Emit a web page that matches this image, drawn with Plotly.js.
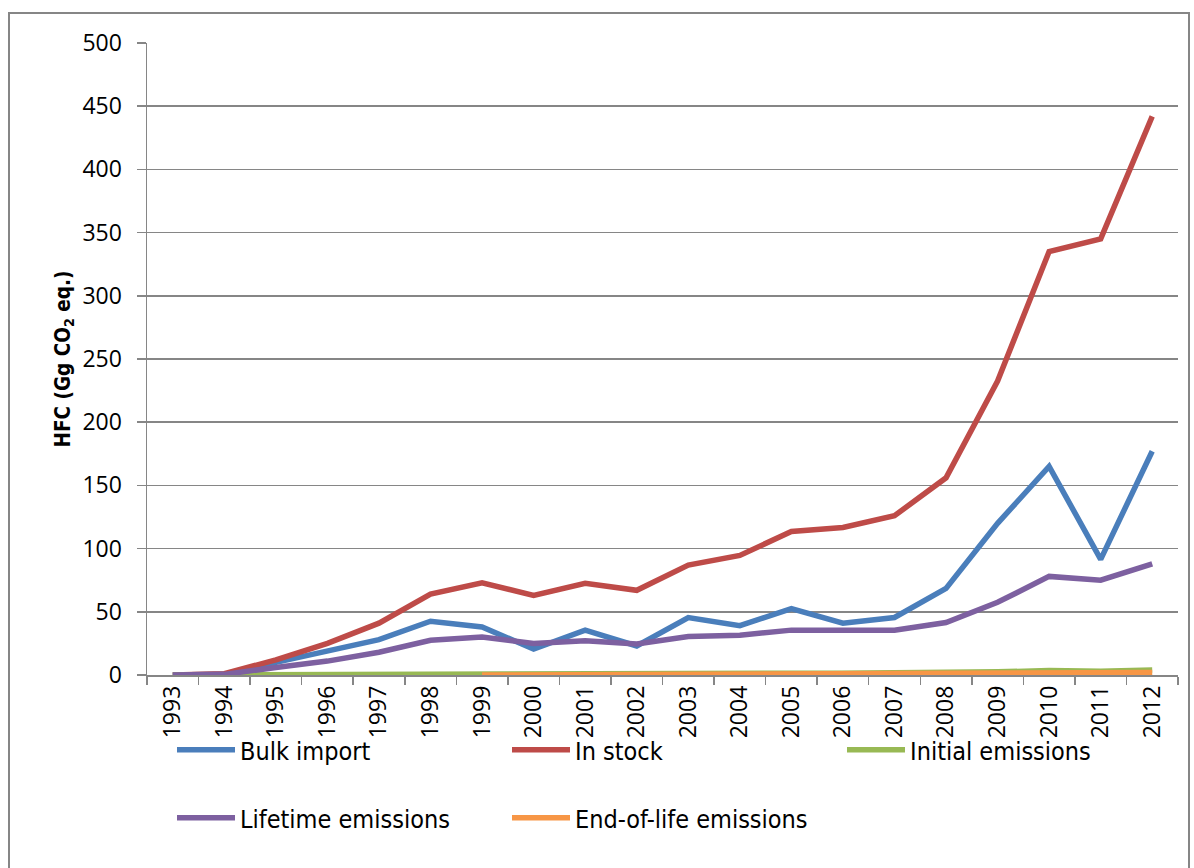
<!DOCTYPE html>
<html>
<head>
<meta charset="utf-8">
<script src="https://cdn.plot.ly/plotly-3.0.1.min.js"></script>
<style>
  html, body { margin: 0; padding: 0; background: #fff; }
  #frame { position: absolute; left: 8px; top: 12px; width: 1182px; height: 900px; border: 2px solid #868686; box-sizing: border-box; }
  #chart { position: absolute; left: 0; top: 0; width: 1194px; height: 868px; }
</style>
</head>
<body>
<div id="frame"></div>
<div id="chart"></div>
<script>
const years = ['1993','1994','1995','1996','1997','1998','1999','2000','2001','2002','2003','2004','2005','2006','2007','2008','2009','2010','2011','2012'];
const bulkImport = [0, 0.5, 10, 19, 28, 42.5, 38, 20.5, 35.5, 23, 45.5, 39, 52.5, 41, 45.5, 68.5, 120, 165, 91.5, 177];
const inStock = [0, 1, 12, 25, 41, 64, 73, 63, 72.5, 67, 87, 94.6, 113.6, 116.7, 126, 156, 232.6, 335, 345, 442];
const initialEmissions = [0, 0.2, 0.4, 0.6, 0.8, 1.0, 1.1, 0.9, 1.0, 0.9, 1.1, 1.2, 1.4, 1.3, 1.4, 1.6, 2.5, 3.5, 3.0, 4.0];
const lifetimeEmissions = [0, 0.5, 6, 11, 18, 27.5, 30, 25, 27, 24.5, 30.5, 31.5, 35.5, 35, 35.5, 41.5, 57.5, 78, 75, 88];
const endOfLifeEmissions = [null, null, null, null, null, null, 0, 0.2, 0.3, 0.3, 0.5, 0.6, 0.7, 0.6, 0.8, 0.9, 1.2, 1.6, 1.8, 2.0];
const yTicks = [0, 50, 100, 150, 200, 250, 300, 350, 400, 450, 500];

const lw = 5.5;
function tr(name, y, color, legend) {
  return { x: years, y: y, name: name, type: 'scatter', mode: 'lines',
           line: { color: color, width: lw }, legend: legend, connectgaps: false };
}
const data = [
  tr('Bulk import', bulkImport, '#4A7EBB', 'legend'),
  tr('In stock', inStock, '#BE4B48', 'legend2'),
  tr('Initial emissions', initialEmissions, '#98B954', 'legend3'),
  tr('Lifetime emissions', lifetimeEmissions, '#7D60A0', 'legend4'),
  tr('End-of-life emissions', endOfLifeEmissions, '#F79646', 'legend5')
];

const tickFont = { family: '"Open Sans", "DejaVu Sans", sans-serif', size: 23, color: '#000' };
const legendFont = { family: '"DejaVu Sans Condensed", "Liberation Sans Narrow", "Open Sans", sans-serif', size: 25, color: '#000' };
const plotL = 147, plotW = 1031, plotT = 43, plotH = 632;
function lg(px, py) {
  return { orientation: 'h', x: (px - plotL) / plotW, xanchor: 'left',
           y: (plotT + plotH - py) / plotH, yanchor: 'middle',
           font: legendFont, bgcolor: 'rgba(0,0,0,0)', itemwidth: 58, borderwidth: 0 };
}
const layout = {
  width: 1194, height: 868,
  paper_bgcolor: 'rgba(0,0,0,0)', plot_bgcolor: 'rgba(0,0,0,0)',
  margin: { l: plotL, r: 1194 - plotL - plotW, t: plotT, b: 868 - plotT - plotH, pad: 0 },
  showlegend: true,
  font: { family: '"Open Sans", sans-serif', size: 23, color: '#000' },
  xaxis: {
    type: 'category', range: [-0.5, 19.5], tickangle: -90,
    showline: true, linecolor: '#868686', linewidth: 1.5,
    ticks: 'outside', tickson: 'boundaries', ticklen: 8, tickcolor: '#868686', tickwidth: 1.5,
    showgrid: false, zeroline: false, tickfont: tickFont
  },
  yaxis: {
    range: [0, 500], tickvals: yTicks, ticktext: yTicks.map(String),
    showline: true, linecolor: '#868686', linewidth: 1.5,
    ticks: 'outside', ticklen: 9, tickcolor: '#868686', tickwidth: 1.5,
    showgrid: true, gridcolor: '#868686', gridwidth: 1.5, zeroline: false,
    ticklabelstandoff: 10, tickfont: tickFont,
    title: { text: 'HFC (Gg CO<sub>2</sub> eq.)', standoff: 6,
             font: { family: '"DejaVu Sans Condensed", "Open Sans", sans-serif', size: 20.5, color: '#000', weight: 'bold' } }
  },
  legend: lg(172, 750),
  legend2: lg(507, 750),
  legend3: lg(842, 750),
  legend4: lg(172, 818),
  legend5: lg(507, 818)
};
Plotly.newPlot('chart', data, layout, { displayModeBar: false, staticPlot: true });
</script>
</body>
</html>
